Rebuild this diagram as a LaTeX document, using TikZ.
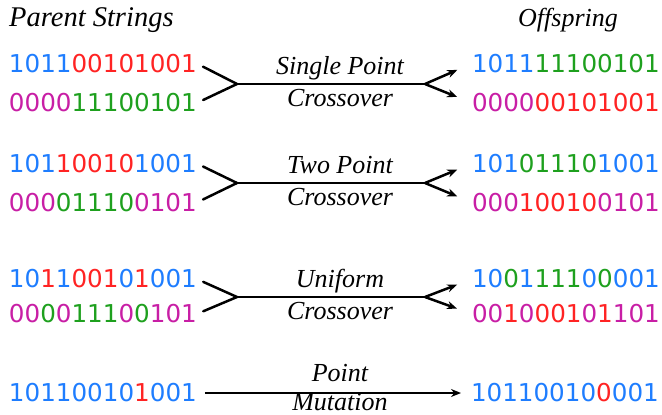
\documentclass[tikz,border=0pt]{standalone}
\usepackage{fontspec}
\setmainfont{Liberation Serif}
\newfontfamily\digitfont{DejaVu Sans}
\usetikzlibrary{arrows.meta}
\definecolor{cblue}{RGB}{30,125,255}
\definecolor{cred}{RGB}{255,35,35}
\definecolor{cgreen}{RGB}{30,160,30}
\definecolor{cmag}{RGB}{200,30,165}
\newcommand{\xb}[1]{\textcolor{cblue}{#1}}
\newcommand{\xr}[1]{\textcolor{cred}{#1}}
\newcommand{\xg}[1]{\textcolor{cgreen}{#1}}
\newcommand{\xm}[1]{\textcolor{cmag}{#1}}
\begin{document}
\begin{tikzpicture}[x=1pt,y=-1pt,
  bits/.style={font=\digitfont\fontsize{24.6}{28}\selectfont, inner sep=0pt, outer sep=0pt},
  lbl/.style={font=\itshape\fontsize{26}{30}\selectfont, inner sep=0pt, anchor=base},
  conn/.style={line width=2.5pt, line cap=round},
  arr/.style={line width=2.5pt, -{Stealth[length=10pt,width=8pt]}}]
\useasboundingbox (0,0) rectangle (662,415);

% headers
\node[lbl, font=\itshape\fontsize{28.5}{32}\selectfont, anchor=base west] (hp) at (9,26) {Parent Strings};
\node[lbl, font=\itshape\fontsize{26}{30}\selectfont] (ho) at (568,26) {Offspring};

% Row 1: single point
\node[bits, anchor=west] (p1a) at (9,63.5) {\xb{1011}\xr{00101001}};
\node[bits, anchor=west] (p1b) at (9,103) {\xm{0000}\xg{11100101}};
\node[bits, anchor=west] (o1a) at (472,63.5) {\xb{1011}\xg{11100101}};
\node[bits, anchor=west] (o1b) at (472,103) {\xm{0000}\xr{00101001}};
\coordinate (j1l) at (237,84);
\coordinate (j1r) at (425,84);
\draw[conn, shorten <=7pt] (p1a.east) -- (j1l);
\draw[conn, shorten <=7pt] (p1b.east) -- (j1l);
\draw[conn] (j1l) -- (j1r);
\draw[arr, shorten >=16pt] (j1r) -- (o1a.west);
\draw[arr, shorten >=16pt] (j1r) -- (o1b.west);
\node[lbl] (l1a) at (340,74) {Single Point};
\node[lbl] (l1b) at (340,106) {Crossover};

% Row 2: two point
\node[bits, anchor=west] (p2a) at (9,163.5) {\xb{101}\xr{10010}\xb{1001}};
\node[bits, anchor=west] (p2b) at (9,202.5) {\xm{000}\xg{01110}\xm{0101}};
\node[bits, anchor=west] (o2a) at (472,163.5) {\xb{101}\xg{01110}\xb{1001}};
\node[bits, anchor=west] (o2b) at (472,202.5) {\xm{000}\xr{10010}\xm{0101}};
\coordinate (j2l) at (237,183);
\coordinate (j2r) at (425,183);
\draw[conn, shorten <=7pt] (p2a.east) -- (j2l);
\draw[conn, shorten <=7pt] (p2b.east) -- (j2l);
\draw[conn] (j2l) -- (j2r);
\draw[arr, shorten >=16pt] (j2r) -- (o2a.west);
\draw[arr, shorten >=16pt] (j2r) -- (o2b.west);
\node[lbl] (l2a) at (340,173) {Two Point};
\node[lbl] (l2b) at (340,205) {Crossover};

% Row 3: uniform
\node[bits, anchor=west] (p3a) at (9,279) {\xb{10}\xr{1}\xb{1}\xr{001}\xb{0}\xr{1}\xb{001}};
\node[bits, anchor=west] (p3b) at (9,314) {\xm{00}\xg{0}\xm{0}\xg{111}\xm{0}\xg{0}\xm{101}};
\node[bits, anchor=west] (o3a) at (472,279) {\xb{10}\xg{0}\xb{1}\xg{111}\xb{0}\xg{0}\xb{001}};
\node[bits, anchor=west] (o3b) at (472,314) {\xm{00}\xr{1}\xm{0}\xr{001}\xm{0}\xr{1}\xm{101}};
\coordinate (j3l) at (237,297);
\coordinate (j3r) at (425,297);
\draw[conn, shorten <=7pt] (p3a.east) -- (j3l);
\draw[conn, shorten <=7pt] (p3b.east) -- (j3l);
\draw[conn] (j3l) -- (j3r);
\draw[arr, shorten >=16pt] (j3r) -- (o3a.west);
\draw[arr, shorten >=16pt] (j3r) -- (o3b.west);
\node[lbl] (l3a) at (340,287) {Uniform};
\node[lbl] (l3b) at (340,319) {Crossover};

% Row 4: point mutation
\node[bits, anchor=west] (p4) at (9,393) {\xb{10110010}\xr{1}\xb{001}};
\node[bits, anchor=west] (o4) at (471,393) {\xb{10110010}\xr{0}\xb{001}};
\draw[arr, shorten <=8pt, shorten >=10pt] (p4.east) -- (o4.west);
\node[lbl] (l4a) at (340,381) {Point};
\node[lbl] (l4b) at (340,410) {Mutation};
\end{tikzpicture}
\end{document}
